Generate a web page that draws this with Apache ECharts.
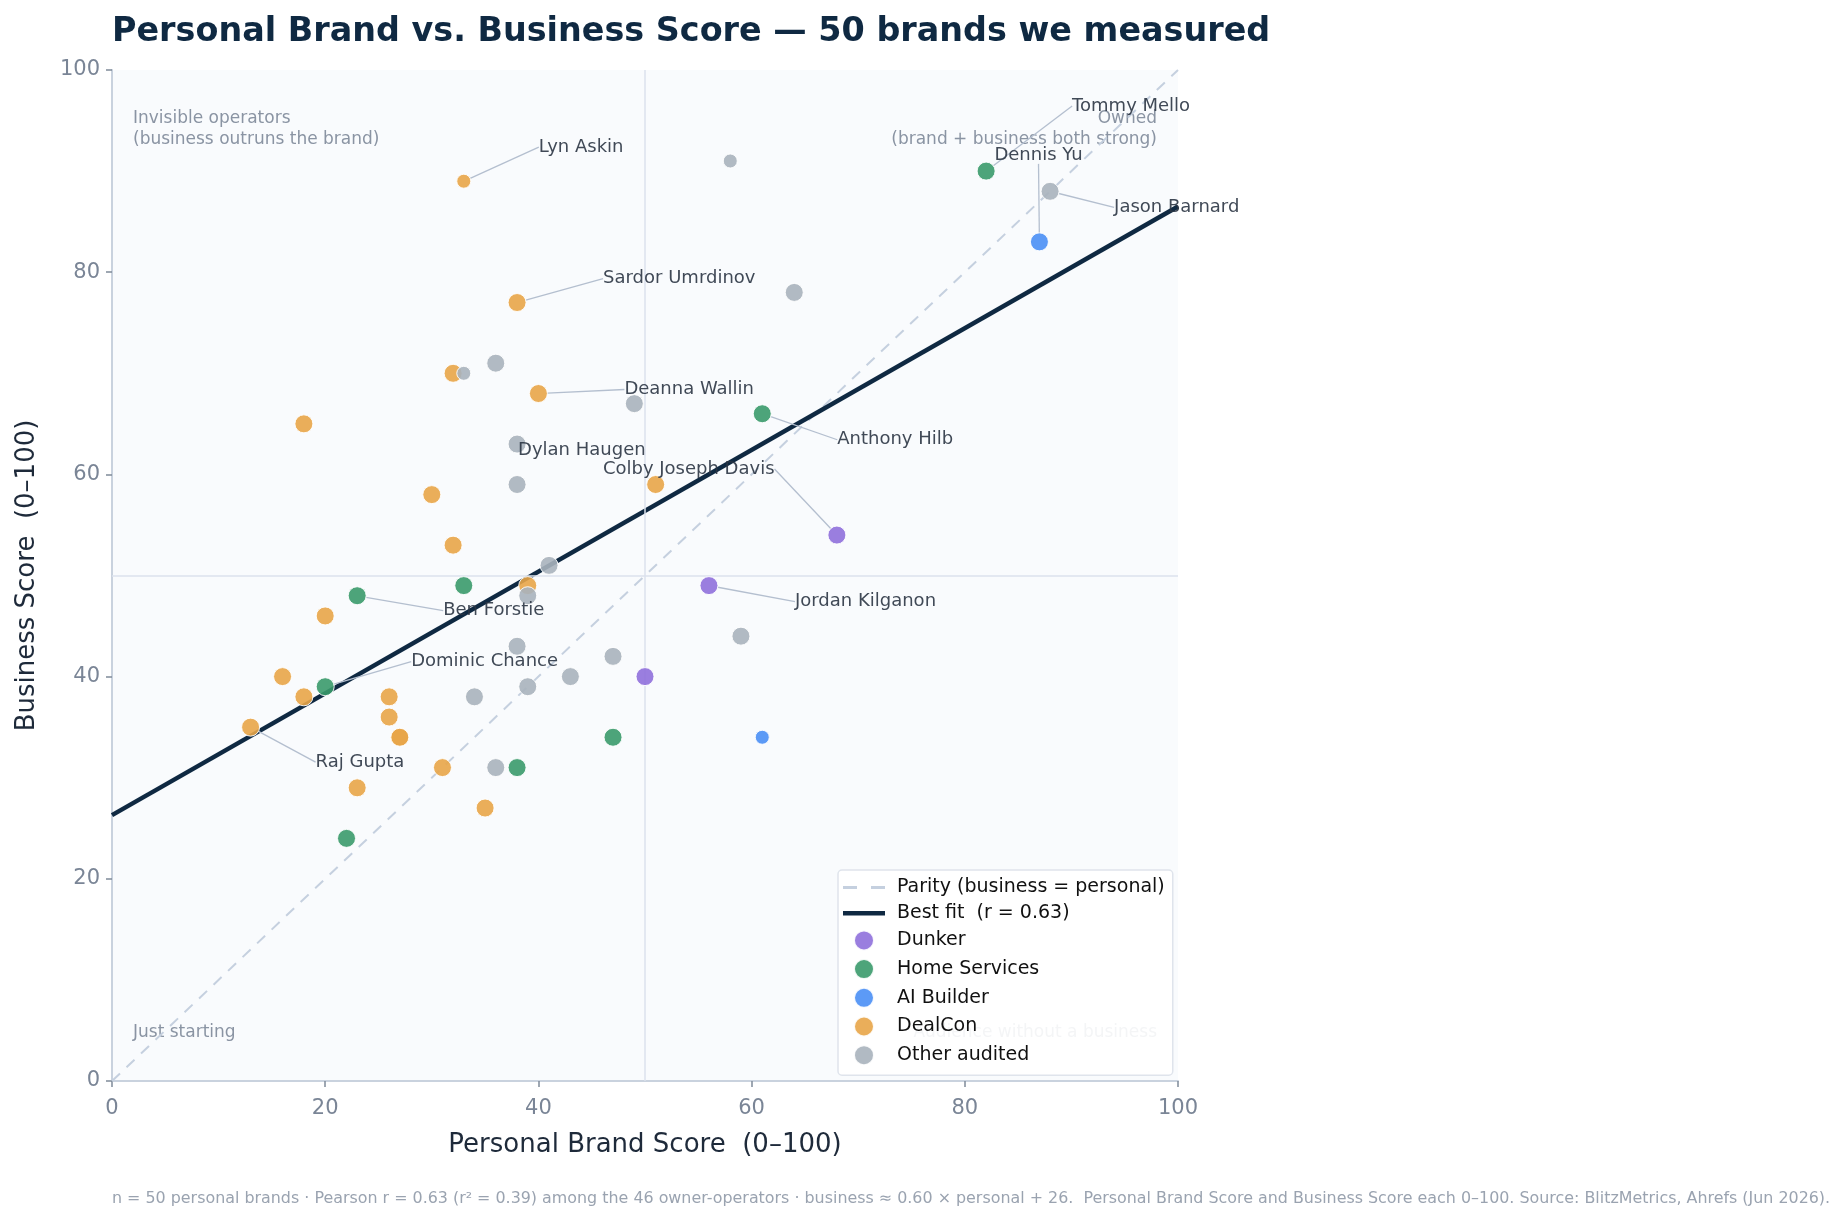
<!DOCTYPE html>
<html>
<head>
<meta charset="utf-8">
<title>Personal Brand vs. Business Score</title>
<script src="https://cdn.jsdelivr.net/npm/echarts@6/dist/echarts.min.js"></script>
<style>
  html, body { margin: 0; padding: 0; background: #fff; }
  #chart { width: 1846px; height: 1222px; }
</style>
</head>
<body>
<div id="chart"></div>
<script>
// groups, in legend order
const groups = ['Dunker', 'Home Services', 'AI Builder', 'DealCon', 'Other audited']
const groupColors = ['#8f70dc', '#3a9a6c', '#4a8ff5', '#e8a548', '#a9b2bd']

// values; '' = unlabeled point, owner 0 = not an owner-operator
const dunkerPersonal = [68, 56, 50]
const dunkerBusiness = [54, 49, 40]
const dunkerNames = ['Colby Joseph Davis', 'Jordan Kilganon', '']
const dunkerOwner = [1, 1, 1]

const homePersonal = [82, 61, 23, 33, 20, 47, 38, 22]
const homeBusiness = [90, 66, 48, 49, 39, 34, 31, 24]
const homeNames = ['Tommy Mello', 'Anthony Hilb', 'Ben Forstie', '', 'Dominic Chance', '', '', '']
const homeOwner = [1, 1, 1, 1, 1, 1, 1, 1]

const aiPersonal = [87, 61]
const aiBusiness = [83, 34]
const aiNames = ['Dennis Yu', '']
const aiOwner = [1, 0]

const dealPersonal = [33, 38, 32, 40, 18, 30, 51, 32, 39, 20, 16, 18, 26, 26, 27, 27, 13, 31, 23, 35]
const dealBusiness = [89, 77, 70, 68, 65, 58, 59, 53, 49, 46, 40, 38, 38, 36, 34, 34, 35, 31, 29, 27]
const dealNames = ['Lyn Askin', 'Sardor Umrdinov', '', 'Deanna Wallin', '', '', '', '', '', '', '', '', '', '', '', '', 'Raj Gupta', '', '', '']
const dealOwner = [0, 1, 1, 1, 1, 1, 1, 1, 1, 1, 1, 1, 1, 1, 1, 1, 1, 1, 1, 1]

const otherPersonal = [58, 88, 64, 36, 33, 49, 38, 38, 41, 39, 38, 47, 59, 43, 39, 34, 36]
const otherBusiness = [91, 88, 78, 71, 70, 67, 63, 59, 51, 48, 43, 42, 44, 40, 39, 38, 31]
const otherNames = ['', 'Jason Barnard', '', '', '', '', 'Dylan Haugen', '', '', '', '', '', '', '', '', '', '']
const otherOwner = [0, 1, 1, 1, 0, 1, 1, 1, 1, 1, 1, 1, 1, 1, 1, 1, 1]

// reference lines
const parityLine = [[0, 0], [100, 100]]
const fitLine = [[0, 26.3], [100, 86.5]]
const fitLabel = 'Best fit  (r = 0.63)'
const parityLabel = 'Parity (business = personal)'

// label offsets (px) from each annotated point to the text's left edge
const labelOffsets = {
  'Lyn Askin': [75, -34],
  'Sardor Umrdinov': [86, -24],
  'Deanna Wallin': [86, -4],
  'Dylan Haugen': [1, 6],
  'Colby Joseph Davis': [-234, -66],
  'Anthony Hilb': [75, 26],
  'Jordan Kilganon': [86, 16],
  'Ben Forstie': [86, 15],
  'Dominic Chance': [86, -25],
  'Raj Gupta': [65, 35],
  'Tommy Mello': [86, -65],
  'Dennis Yu': [-45, -87],
  'Jason Barnard': [64, 16],
}

const FONT = 'DejaVu Sans, Noto Sans, sans-serif'

const groupData = [
  [dunkerPersonal, dunkerBusiness, dunkerNames, dunkerOwner],
  [homePersonal, homeBusiness, homeNames, homeOwner],
  [aiPersonal, aiBusiness, aiNames, aiOwner],
  [dealPersonal, dealBusiness, dealNames, dealOwner],
  [otherPersonal, otherBusiness, otherNames, otherOwner],
]

// leader line from the point centre towards the label centre, stopped at the padded label box
const leaderPoints = (p, dx, dy) => {
  const px = p.rect.x + p.rect.width / 2
  const py = p.rect.y + p.rect.height / 2
  const pad = 9
  const x0 = p.labelRect.x + dx - pad
  const x1 = p.labelRect.x + dx + p.labelRect.width + pad
  const y0 = p.labelRect.y + dy - pad
  const y1 = p.labelRect.y + dy + p.labelRect.height + pad
  const cx = (x0 + x1) / 2
  const cy = (y0 + y1) / 2
  const vx = cx - px
  const vy = cy - py
  let tx = -Infinity
  let ty = -Infinity
  if (vx !== 0) tx = ((vx > 0 ? x0 : x1) - px) / vx
  if (vy !== 0) ty = ((vy > 0 ? y0 : y1) - py) / vy
  let t = Math.max(tx, ty)
  if (!(t > 0)) t = 1
  const ex = px + vx * t
  const ey = py + vy * t
  return [[px, py], [(px + ex) / 2, (py + ey) / 2], [ex, ey]]
}

const chart = echarts.init(document.getElementById('chart'))

const scatterSeries = groups.map((g, gi) => {
  const [xs, ys, names, owner] = groupData[gi]
  return {
    name: g,
    type: 'scatter',
    z: 5,
    symbolSize: 18,
    itemStyle: { color: groupColors[gi], opacity: 0.9, borderColor: '#fff', borderWidth: 1 },
    emphasis: { disabled: true },
    data: xs.map((x, i) => ({
      value: [x, ys[i]],
      name: names[i],
      symbolSize: owner[i] ? 18 : 14,
      label: { show: names[i] !== '' },
    })),
    label: {
      position: 'inside',
      align: 'left',
      verticalAlign: 'middle',
      formatter: (p) => p.name,
      color: '#2b3544',
      fontSize: 18,
      fontFamily: FONT,
    },
    labelLine: {
      show: true,
      lineStyle: { color: '#b4bfcf', width: 1.3 },
    },
    labelLayout: (p) => {
      const off = labelOffsets[names[p.dataIndex]]
      if (!off) return {}
      return { dx: off[0], dy: off[1], labelLinePoints: leaderPoints(p, off[0], off[1]) }
    },
  }
})

chart.setOption({
  backgroundColor: '#fff',
  animation: false,
  title: [{
    text: 'Personal Brand vs. Business Score — 50 brands we measured',
    left: 107,
    top: 11,
    textStyle: { color: '#0f2942', fontSize: 33.4, fontWeight: 'bold', fontFamily: FONT },
  }, {
    text: 'n = 50 personal brands · Pearson r = 0.63 (r² = 0.39) among the 46 owner-operators · business ≈ 0.60 × personal + 26.  Personal Brand Score and Business Score each 0–100. Source: BlitzMetrics, Ahrefs (Jun 2026).',
    left: 107,
    top: 1186,
    textStyle: { color: '#9aa3b0', fontSize: 15.9, fontWeight: 'normal', fontFamily: FONT },
  }],
  grid: {
    left: 112,
    right: 668,
    top: 70,
    bottom: 141,
    show: true,
    backgroundColor: '#f9fbfd',
    borderWidth: 0,
  },
  legend: {
    orient: 'vertical',
    left: 838,
    top: 870,
    z: 10,
    padding: [8, 8, 9, 5],
    itemWidth: 42,
    itemHeight: 20,
    itemGap: 6.7,
    backgroundColor: 'rgba(255,255,255,0.9)',
    borderColor: '#dfe4ec',
    borderWidth: 1.5,
    borderRadius: 4,
    textStyle: { color: '#111', fontSize: 19, lineHeight: 19, fontFamily: FONT, padding: [0, 0, 0, 7] },
    data: [
      { name: parityLabel, icon: 'path://M0,0h14v3H0zM28,0h14v3H28z' },
      { name: fitLabel, icon: 'path://M0,0h42v4.5H0z' },
      ...groups.map((g) => ({ name: g, icon: 'circle' })),
    ],
  },
  xAxis: {
    type: 'value',
    min: 0,
    max: 100,
    interval: 20,
    name: 'Personal Brand Score  (0–100)',
    nameLocation: 'middle',
    nameGap: 51,
    nameTextStyle: { color: '#1e2a3a', fontSize: 26, fontFamily: FONT },
    axisLine: { show: true, lineStyle: { color: '#c9d2de', width: 2 } },
    axisTick: { show: true, length: 6, lineStyle: { color: '#7f8a99', width: 1.5 } },
    axisLabel: { color: '#7a8596', fontSize: 21, fontFamily: FONT, margin: 17 },
    splitLine: { show: false },
  },
  yAxis: {
    type: 'value',
    min: 0,
    max: 100,
    interval: 20,
    name: 'Business Score  (0–100)',
    nameLocation: 'middle',
    nameGap: 72,
    nameTextStyle: { color: '#1e2a3a', fontSize: 26, fontFamily: FONT },
    axisLine: { show: true, lineStyle: { color: '#c9d2de', width: 2 } },
    axisTick: { show: true, length: 6, lineStyle: { color: '#7f8a99', width: 1.5 } },
    axisLabel: { color: '#7a8596', fontSize: 21, fontFamily: FONT, margin: 12 },
    splitLine: { show: false },
  },
  graphic: [
    {
      type: 'text', x: 133, y: 108, z: 1, silent: true,
      style: { text: 'Invisible operators\n(business outruns the brand)', fill: '#8a94a3', fontSize: 17, lineHeight: 21, fontFamily: FONT },
    },
    {
      type: 'text', x: 1157, y: 108, z: 1, silent: true,
      style: { text: 'Owned\n(brand + business both strong)', fill: '#8a94a3', fontSize: 17, lineHeight: 21, align: 'right', fontFamily: FONT },
    },
    {
      type: 'text', x: 133, y: 1024, z: 1, silent: true,
      style: { text: 'Just starting', fill: '#8a94a3', fontSize: 17, fontFamily: FONT },
    },
    {
      type: 'text', x: 1157, y: 1024, z: 1, silent: true,
      style: { text: 'Audience without a business', fill: '#8a94a3', fontSize: 17, align: 'right', fontFamily: FONT },
    },
  ],
  series: [
    {
      name: parityLabel,
      type: 'line',
      z: 2,
      data: parityLine,
      showSymbol: false,
      symbol: 'none',
      silent: true,
      lineStyle: { color: '#c5d0df', width: 2, type: [11, 9] },
      itemStyle: { color: '#c5d0df' },
      markLine: {
        silent: true,
        symbol: 'none',
        label: { show: false },
        lineStyle: { color: '#dbe2ec', width: 1.5, type: 'solid' },
        data: [{ xAxis: 50 }, { yAxis: 50 }],
      },
    },
    {
      name: fitLabel,
      type: 'line',
      z: 3,
      data: fitLine,
      showSymbol: false,
      symbol: 'none',
      silent: true,
      lineStyle: { color: '#0f2942', width: 4.5 },
      itemStyle: { color: '#0f2942' },
    },
    ...scatterSeries,
  ],
})
</script>
</body>
</html>
